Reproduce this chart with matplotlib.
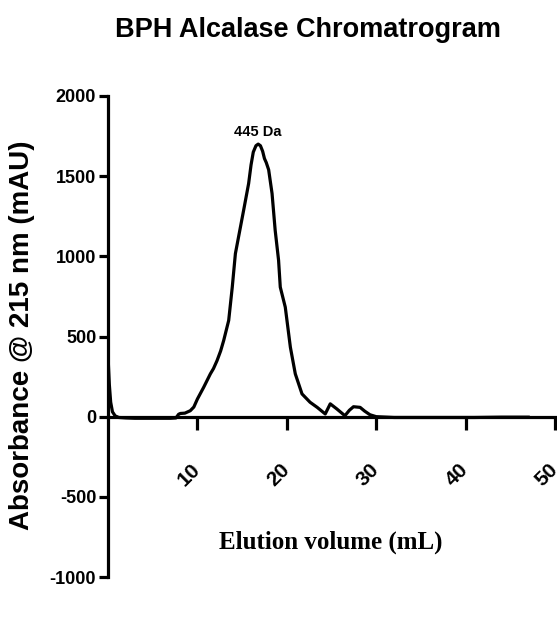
import matplotlib
matplotlib.use("Agg")
import matplotlib.pyplot as plt

# trace
elution_ml = [0, 0.15, 0.3, 0.5, 0.8, 1.2, 2, 3, 4, 5, 6, 7, 7.6, 7.9, 8.1,
              8.6, 9.2, 9.6, 10.0, 10.7, 11.45, 11.8, 12.2, 12.6, 12.94, 13.5,
              13.9, 14.25, 14.6, 15.17, 15.73, 16.0, 16.25, 16.55, 16.8, 17.05,
              17.3, 17.5, 17.7, 17.97, 18.35, 18.7, 19.08, 19.27, 19.83, 20.4,
              20.95, 21.7, 22.6, 23.4, 24.3, 24.86, 25.6, 26.5, 27.0, 27.46,
              28.2, 28.7, 29.3, 30, 32, 35, 38, 41, 44, 47]
absorbance = [380, 200, 90, 30, 5, -5, -8, -10, -10, -10, -10, -10, -8, 15, 20,
              22, 37, 60, 110, 183, 267, 300, 350, 410, 475, 600,
              808, 1017, 1120, 1287, 1454, 1570, 1650, 1690, 1700, 1690,
              1655, 1610, 1585, 1540, 1392, 1162, 975, 808, 683, 433,
              267, 142, 90, 58, 17, 80, 48, 6, 40, 62,
              58, 35, 12, 0, -5, -5, -5, -5, -3, -3]

x_ticks = [10, 20, 30, 40, 50]
y_ticks = [-1000, -500, 0, 500, 1000, 1500, 2000]
peak_label = "445 Da"
peak_x, peak_y = 16.8, 1700

sans = ["Liberation Sans", "DejaVu Sans"]
serif = ["Liberation Serif", "DejaVu Serif"]

W, H = 557, 618
fig = plt.figure(figsize=(W / 100, H / 100), dpi=100)
ax = fig.add_axes([108 / W, 1 - 577 / H, (555 - 108) / W, (577 - 96) / H])

ax.plot(elution_ml, absorbance, color="black", lw=2.3, solid_joinstyle="round")

ax.set_xlim(0, 50)
ax.set_ylim(-1000, 2000)
ax.spines["top"].set_visible(False)
ax.spines["right"].set_visible(False)
ax.spines["left"].set_position(("data", 0))
ax.spines["bottom"].set_position(("data", 0))
for s in ("left", "bottom"):
    ax.spines[s].set_linewidth(2.3)

ax.set_xticks(x_ticks)
ax.set_xticklabels([str(t) for t in x_ticks], rotation=45, ha="right",
                   va="center", rotation_mode="anchor",
                   fontfamily=sans, fontweight="bold", fontsize=15)
ax.set_yticks(y_ticks)
ax.set_yticklabels([str(t) for t in y_ticks], fontfamily=sans,
                   fontweight="bold", fontsize=13)
ax.tick_params(axis="x", direction="out", length=9, width=2.3, pad=27)
ax.tick_params(axis="y", direction="out", length=6.5, width=2.3, pad=2)

ax.text(peak_x, peak_y + 30, peak_label, ha="center", va="bottom",
        fontfamily=sans, fontweight="bold", fontsize=10.5)

fig.text(308 / W, 1 - 30 / H, "BPH Alcalase Chromatrogram", ha="center",
         va="center", fontfamily=sans, fontweight="bold", fontsize=19.5)
fig.text(22 / W, 1 - 335 / H, "Absorbance @ 215 nm (mAU)", rotation=90,
         ha="center", va="center", fontfamily=sans, fontweight="bold",
         fontsize=20)
fig.text(331 / W, 1 - 542 / H, "Elution volume (mL)", ha="center",
         va="center", fontfamily=serif, fontweight="bold", fontsize=18)

fig.savefig("out.png", dpi=100)
